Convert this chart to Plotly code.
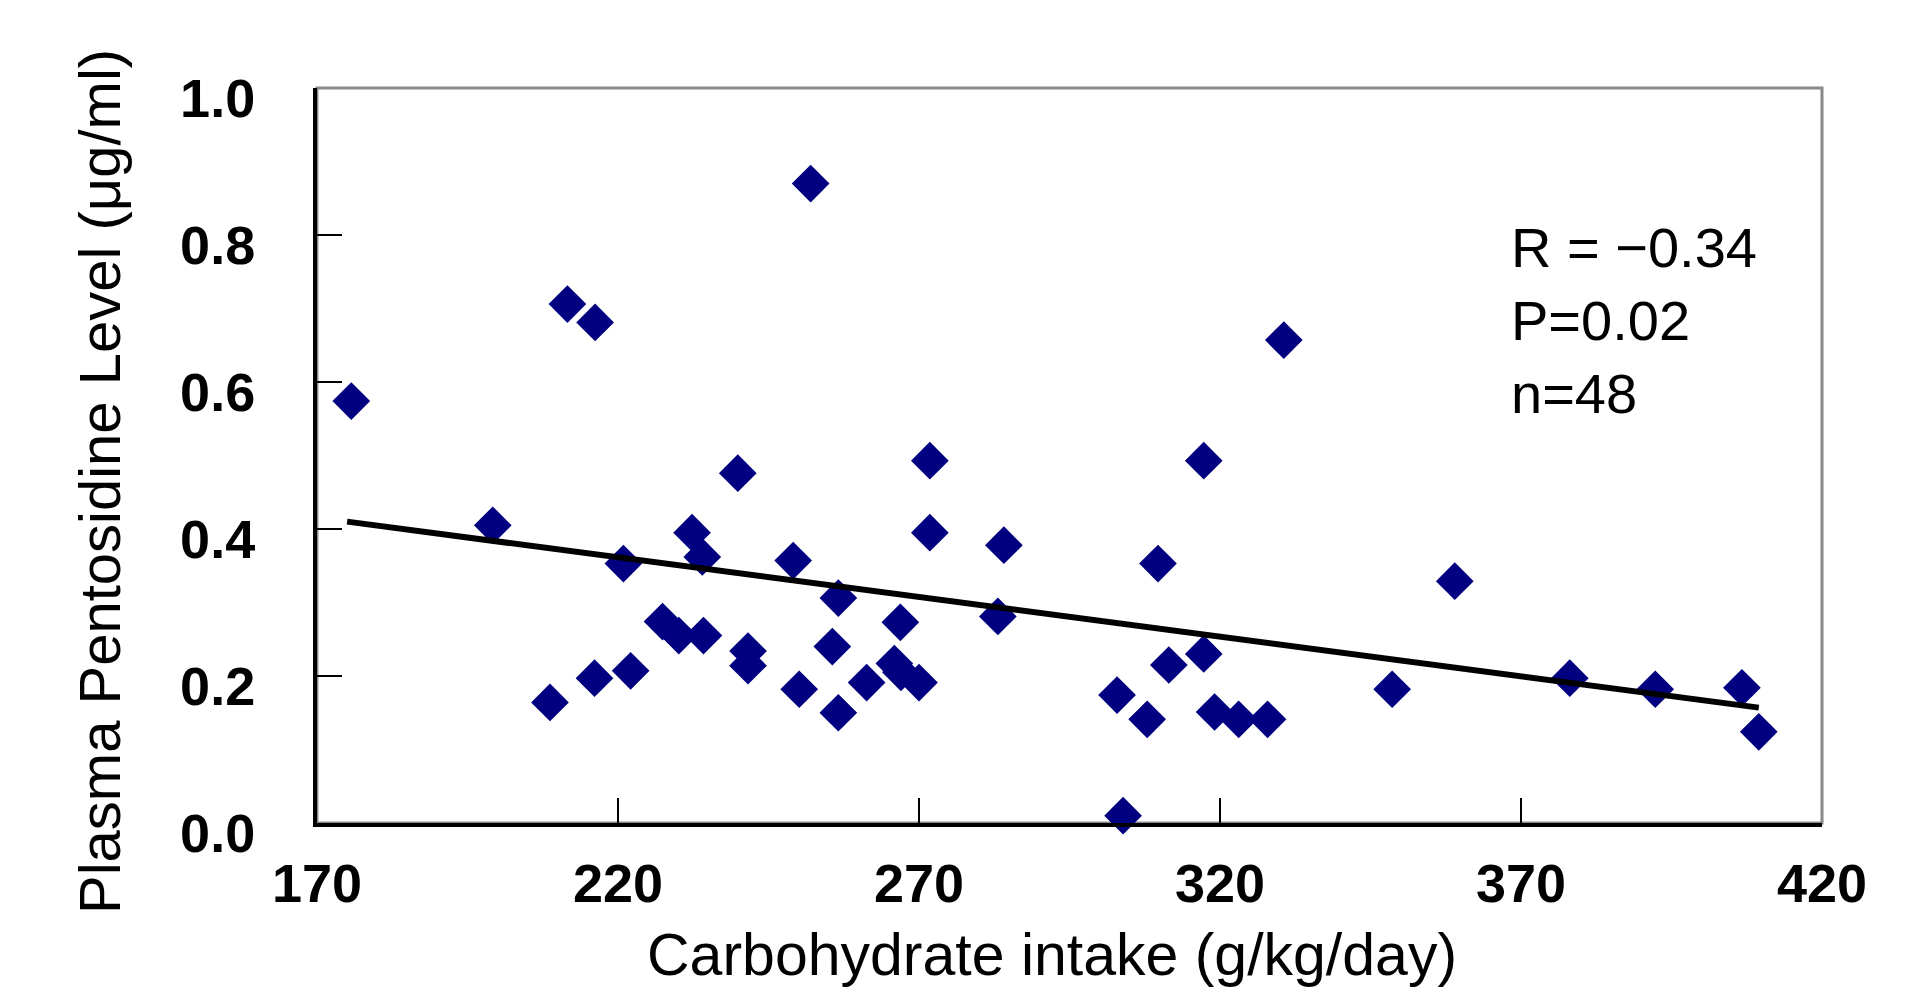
import plotly.graph_objects as go

# Data
carb_intake = [175.7, 199.2, 211.6, 216.2, 208.7, 216.1, 222.1, 220.9, 227.4, 230.1,
               234.2, 232.3, 234.0, 239.9, 241.6, 241.6, 249.1, 250.1, 252.0, 255.6,
               256.6, 256.6, 261.3, 265.9, 267.0, 266.9, 270.0, 271.8, 271.8, 284.1,
               283.1, 302.9, 303.9, 307.9, 309.7, 311.5, 317.3, 317.3, 319.1, 323.1,
               327.9, 330.6, 348.6, 359.0, 378.1, 392.3, 406.7, 409.5]
pentosidine = [0.574, 0.405, 0.706, 0.681, 0.164, 0.197, 0.207, 0.353, 0.274, 0.255,
               0.255, 0.395, 0.362, 0.476, 0.234, 0.214, 0.357, 0.182, 0.870, 0.240,
               0.306, 0.150, 0.191, 0.217, 0.205, 0.273, 0.191, 0.493, 0.395, 0.378,
               0.281, 0.174, 0.010, 0.141, 0.353, 0.215, 0.493, 0.230, 0.151, 0.141,
               0.141, 0.657, 0.182, 0.329, 0.197, 0.182, 0.184, 0.124]

trend_x = [175.0, 409.5]
trend_y = [0.410, 0.157]

x_ticks = [170, 220, 270, 320, 370, 420]
y_ticks = [0.0, 0.2, 0.4, 0.6, 0.8, 1.0]
y_tick_text = ["0.0", "0.2", "0.4", "0.6", "0.8", "1.0"]

stats_lines = ["R = \u22120.34", "P=0.02", "n=48"]

FONT = "Liberation Sans, Arial, sans-serif"

fig = go.Figure()
fig.add_trace(go.Scatter(
    x=carb_intake, y=pentosidine, mode="markers",
    marker=dict(symbol="diamond", size=29, color="#000080", line=dict(width=0)),
    showlegend=False, cliponaxis=False,
))
fig.add_trace(go.Scatter(
    x=trend_x, y=trend_y, mode="lines",
    line=dict(color="black", width=6), showlegend=False,
))

W, H = 1925, 991
pl, pr, pt, pb = 317, 1822, 88, 823
pw, ph = pr - pl, pb - pt

fig.update_layout(
    width=W, height=H,
    margin=dict(l=pl, r=W - pr, t=pt, b=H - pb),
    paper_bgcolor="white", plot_bgcolor="white",
    font=dict(family=FONT, color="black"),
    shapes=[dict(type="rect", xref="paper", yref="paper", x0=0, y0=0, x1=1, y1=1,
                 line=dict(color="#8a8a8a", width=3), layer="below")],
    annotations=[
        dict(text="<br>".join(stats_lines), x=368.0, y=0.828, xref="x", yref="y",
             xanchor="left", yanchor="top", align="left", showarrow=False,
             font=dict(size=56, family=FONT, color="black")),
        dict(text="Carbohydrate intake (g/kg/day)", xref="paper", yref="paper",
             x=(1052 - pl) / pw, y=(pb - 955) / ph, xanchor="center", yanchor="middle",
             showarrow=False, font=dict(size=59, family=FONT)),
        dict(text="Plasma Pentosidine Level (\u03bcg/ml)", textangle=-90,
             xref="paper", yref="paper",
             x=(99 - pl) / pw, y=(pb - 482) / ph, xanchor="center", yanchor="middle",
             showarrow=False, font=dict(size=58, family=FONT)),
    ],
)

fig.update_xaxes(
    range=[170, 420], tickvals=x_ticks, ticktext=[str(v) for v in x_ticks],
    showline=True, linecolor="black", linewidth=4, showgrid=False, zeroline=False,
    ticks="inside", ticklen=25, tickwidth=2, tickcolor="black",
    tickfont=dict(size=54, family=FONT, weight="bold"),
    ticklabelstandoff=10,
)
fig.update_yaxes(
    range=[0, 1.0], tickvals=y_ticks, ticktext=y_tick_text,
    showline=True, linecolor="black", linewidth=4, showgrid=False, zeroline=False,
    ticks="inside", ticklen=25, tickwidth=2, tickcolor="black",
    tickfont=dict(size=54, family=FONT, weight="bold"),
    ticklabelstandoff=47, ticklabelshift=10,
)

fig.write_html("out.html")
